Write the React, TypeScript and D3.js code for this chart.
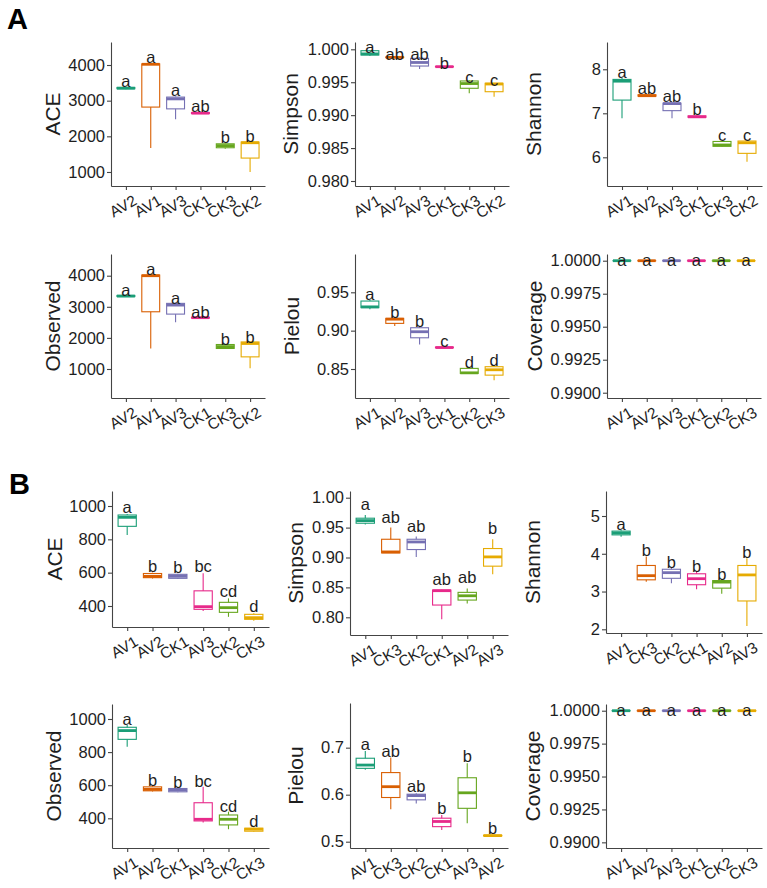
import React, { useEffect, useRef } from 'react';
import * as d3 from 'd3';

// Dark2 colours, applied by box position within each panel
const DARK2 = ['#1b9e77', '#d95f02', '#7570b3', '#e7298a', '#66a61e', '#e6ab02'];
const FONT = "'Liberation Sans', Arial, Helvetica, sans-serif";
const AXIS = '#444';
const INK = '#1e1e1e';

/* ─── A: alpha diversity ─── */
// box stats are [lower whisker, q1, median, q3, upper whisker]
const aAceGroups = ['AV2', 'AV1', 'AV3', 'CK1', 'CK3', 'CK2'];
const aAceStats = [
    [3320, 3335, 3350, 3370, 3380],
    [1670, 2820, 4020, 4030, 4050],
    [2480, 2770, 3050, 3100, 3120],
    [2630, 2640, 2650, 2665, 2670],
    [1650, 1680, 1740, 1790, 1800],
    [1000, 1390, 1820, 1840, 1850],
];
const aAceLetters = ['a', 'a', 'a', 'ab', 'b', 'b'];
const aAceTicks = [1000, 2000, 3000, 4000];

const aSimpsonGroups = ['AV1', 'AV2', 'AV3', 'CK1', 'CK3', 'CK2'];
const aSimpsonStats = [
    [0.9990, 0.99913, 0.9993, 0.99979, 0.9999],
    [0.99872, 0.99875, 0.99878, 0.99882, 0.99885],
    [0.9970, 0.99746, 0.9980, 0.99863, 0.9988],
    [0.99730, 0.99733, 0.99736, 0.99740, 0.99742],
    [0.99332, 0.99408, 0.9948, 0.99519, 0.9953],
    [0.9928, 0.99356, 0.99473, 0.99484, 0.9949],
];
const aSimpsonLetters = ['a', 'ab', 'ab', 'b', 'c', 'c'];
const aSimpsonTicks = [0.980, 0.985, 0.990, 0.995, 1.000];

const aShannonGroups = ['AV1', 'AV2', 'AV3', 'CK1', 'CK3', 'CK2'];
const aShannonStats = [
    [6.89, 7.30, 7.73, 7.77, 7.80],
    [7.37, 7.39, 7.40, 7.42, 7.43],
    [6.89, 7.06, 7.22, 7.23, 7.25],
    [6.90, 6.91, 6.92, 6.94, 6.95],
    [6.24, 6.25, 6.28, 6.36, 6.37],
    [5.90, 6.09, 6.33, 6.37, 6.38],
];
const aShannonLetters = ['a', 'ab', 'ab', 'b', 'c', 'c'];
const aShannonTicks = [6, 7, 8];

const aObservedGroups = ['AV2', 'AV1', 'AV3', 'CK1', 'CK3', 'CK2'];
const aObservedStats = [
    [3320, 3330, 3345, 3365, 3375],
    [1660, 2840, 4000, 4020, 4040],
    [2500, 2765, 3055, 3110, 3130],
    [2630, 2640, 2650, 2660, 2665],
    [1650, 1660, 1720, 1787, 1795],
    [1020, 1390, 1820, 1870, 1880],
];
const aObservedLetters = ['a', 'a', 'a', 'ab', 'b', 'b'];
const aObservedTicks = [1000, 2000, 3000, 4000];

const aPielouGroups = ['AV1', 'AV2', 'AV3', 'CK1', 'CK2', 'CK3'];
const aPielouStats = [
    [0.928, 0.930, 0.931, 0.9386, 0.940],
    [0.906, 0.9095, 0.915, 0.916, 0.917],
    [0.882, 0.8907, 0.8986, 0.9038, 0.905],
    [0.8775, 0.8778, 0.878, 0.8785, 0.879],
    [0.8440, 0.8443, 0.845, 0.8508, 0.851],
    [0.8355, 0.842, 0.849, 0.853, 0.854],
];
const aPielouLetters = ['a', 'b', 'b', 'c', 'd', 'd'];
const aPielouTicks = [0.85, 0.90, 0.95];

const aCoverageGroups = ['AV1', 'AV2', 'AV3', 'CK1', 'CK2', 'CK3'];
const aCoverageStats = [
    [0.99999, 0.999995, 1.0, 1.0, 1.0],
    [0.99999, 0.999995, 1.0, 1.0, 1.0],
    [0.99999, 0.999995, 1.0, 1.0, 1.0],
    [0.99999, 0.999995, 1.0, 1.0, 1.0],
    [0.99999, 0.999995, 1.0, 1.0, 1.0],
    [0.99999, 0.999995, 1.0, 1.0, 1.0],
];
const aCoverageLetters = ['a', 'a', 'a', 'a', 'a', 'a'];
const coverageTicks = [0.9900, 0.9925, 0.9950, 0.9975, 1.0000];

/* ─── B ─── */
const bAceGroups = ['AV1', 'AV2', 'CK1', 'AV3', 'CK2', 'CK3'];
const bAceStats = [
    [826, 878, 932, 946, 952],
    [565, 570, 578, 595, 600],
    [562, 566, 578, 590, 594],
    [370, 380, 396, 491, 596],
    [335, 362, 390, 422, 446],
    [312, 320, 330, 350, 356],
];
const bAceLetters = ['a', 'b', 'b', 'bc', 'cd', 'd'];
const bAceTicks = [400, 600, 800, 1000];

const bSimpsonGroups = ['AV1', 'CK3', 'CK2', 'CK1', 'AV2', 'AV3'];
const bSimpsonStats = [
    [0.955, 0.9573, 0.9617, 0.9657, 0.971],
    [0.9077, 0.9077, 0.9093, 0.9305, 0.950],
    [0.901, 0.9133, 0.926, 0.9305, 0.935],
    [0.7967, 0.8205, 0.8445, 0.8455, 0.846],
    [0.823, 0.8288, 0.836, 0.8417, 0.8483],
    [0.872, 0.8855, 0.901, 0.915, 0.9305],
];
const bSimpsonLetters = ['a', 'ab', 'ab', 'ab', 'ab', 'b'];
const bSimpsonTicks = [0.80, 0.85, 0.90, 0.95, 1.00];

const bShannonGroups = ['AV1', 'CK3', 'CK2', 'CK1', 'AV2', 'AV3'];
const bShannonStats = [
    [4.45, 4.50, 4.55, 4.60, 4.62],
    [3.26, 3.31, 3.42, 3.69, 3.93],
    [3.22, 3.35, 3.50, 3.59, 3.62],
    [3.06, 3.18, 3.34, 3.47, 3.53],
    [2.94, 3.09, 3.25, 3.29, 3.31],
    [2.09, 2.75, 3.44, 3.69, 3.88],
];
const bShannonLetters = ['a', 'b', 'b', 'b', 'b', 'b'];
const bShannonTicks = [2, 3, 4, 5];

const bObservedGroups = ['AV1', 'AV2', 'CK1', 'AV3', 'CK2', 'CK3'];
const bObservedStats = [
    [832, 877, 930, 950, 964],
    [562, 566, 575, 590, 594],
    [558, 560, 572, 580, 584],
    [374, 384, 394, 494, 590],
    [334, 360, 394, 420, 440],
    [318, 322, 334, 340, 345],
];
const bObservedLetters = ['a', 'b', 'b', 'bc', 'cd', 'd'];
const bObservedTicks = [400, 600, 800, 1000];

const bPielouGroups = ['AV1', 'CK3', 'CK2', 'CK1', 'AV3', 'AV2'];
const bPielouStats = [
    [0.653, 0.656, 0.663, 0.6775, 0.693],
    [0.569, 0.594, 0.617, 0.647, 0.679],
    [0.581, 0.589, 0.598, 0.601, 0.603],
    [0.525, 0.532, 0.543, 0.550, 0.557],
    [0.539, 0.571, 0.604, 0.636, 0.667],
    [0.512, 0.5125, 0.513, 0.5135, 0.514],
];
const bPielouLetters = ['a', 'ab', 'ab', 'b', 'b', 'b'];
const bPielouTicks = [0.5, 0.6, 0.7];

const bCoverageGroups = ['AV1', 'AV2', 'AV3', 'CK1', 'CK2', 'CK3'];
const bCoverageStats = aCoverageStats;
const bCoverageLetters = ['a', 'a', 'a', 'a', 'a', 'a'];

/* ─── panel layout: axis origin, plot extent, y range ─── */
const PANELS = [
    { title: 'ACE', groups: aAceGroups, stats: aAceStats, letters: aAceLetters, ticks: aAceTicks, fmt: 'd',
        domain: [607, 4645], x0: 111, x1: 265, top: 42, bottom: 186, titleX: 52, letterDy: 0 },
    { title: 'Simpson', groups: aSimpsonGroups, stats: aSimpsonStats, letters: aSimpsonLetters, ticks: aSimpsonTicks, fmt: '.3f',
        domain: [0.97924, 1.00111], x0: 355, x1: 509, top: 42, bottom: 186, titleX: 290, letterDy: 3 },
    { title: 'Shannon', groups: aShannonGroups, stats: aShannonStats, letters: aShannonLetters, ticks: aShannonTicks, fmt: 'd',
        domain: [5.348, 8.62], x0: 607, x1: 762, top: 42, bottom: 186, titleX: 533, letterDy: 0 },
    { title: 'Observed', groups: aObservedGroups, stats: aObservedStats, letters: aObservedLetters, ticks: aObservedTicks, fmt: 'd',
        domain: [67, 4698], x0: 111, x1: 265, top: 254, bottom: 398, titleX: 52, letterDy: 1 },
    { title: 'Pielou', groups: aPielouGroups, stats: aPielouStats, letters: aPielouLetters, ticks: aPielouTicks, fmt: '.2f',
        domain: [0.8122, 0.99994], x0: 355, x1: 509, top: 254, bottom: 398, titleX: 291, letterDy: 0 },
    { title: 'Coverage', groups: aCoverageGroups, stats: aCoverageStats, letters: aCoverageLetters, ticks: coverageTicks, fmt: '.4f',
        domain: [0.9896, 1.000508], x0: 607, x1: 761, top: 254, bottom: 398, titleX: 534, letterDy: 5 },
    { title: 'ACE', groups: bAceGroups, stats: bAceStats, letters: bAceLetters, ticks: bAceTicks, fmt: 'd',
        domain: [274, 1090], x0: 112, x1: 269, top: 491, bottom: 627, titleX: 54, letterDy: -1 },
    { title: 'Simpson', groups: bSimpsonGroups, stats: bSimpsonStats, letters: bSimpsonLetters, ticks: bSimpsonTicks, fmt: '.2f',
        domain: [0.7704, 1.0112], x0: 350, x1: 508, top: 491, bottom: 635, titleX: 295, letterDy: -5 },
    { title: 'Shannon', groups: bShannonGroups, stats: bShannonStats, letters: bShannonLetters, ticks: bShannonTicks, fmt: 'd',
        domain: [1.902, 5.662], x0: 606, x1: 762, top: 491, bottom: 633, titleX: 532, letterDy: 0 },
    { title: 'Observed', groups: bObservedGroups, stats: bObservedStats, letters: bObservedLetters, ticks: bObservedTicks, fmt: 'd',
        domain: [220.5, 1090.6], x0: 112, x1: 269, top: 704, bottom: 848, titleX: 53, letterDy: 0 },
    { title: 'Pielou', groups: bPielouGroups, stats: bPielouStats, letters: bPielouLetters, ticks: bPielouTicks, fmt: '.1f',
        domain: [0.4866, 0.795], x0: 350, x1: 508, top: 703, bottom: 848, titleX: 295, letterDy: -1 },
    { title: 'Coverage', groups: bCoverageGroups, stats: bCoverageStats, letters: bCoverageLetters, ticks: coverageTicks, fmt: '.4f',
        domain: [0.98957, 1.00051], x0: 606, x1: 762, top: 704, bottom: 848, titleX: 532, letterDy: 5 },
];

const TAGS = [
    { label: 'A', x: 7, y: 29 },
    { label: 'B', x: 9, y: 494 },
];

function drawPanel(svg, p) {
    const g = svg.append('g');
    const x = d3.scalePoint().domain(p.groups).range([p.x0, p.x1]).padding(0.6);
    const y = d3.scaleLinear().domain(p.domain).range([p.bottom, p.top]);
    const bw = x.step() * 0.72;

    // y axis
    g.append('g').attr('transform', `translate(${p.x0},0)`)
        .call(d3.axisLeft(y).tickValues(p.ticks).tickFormat(d3.format(p.fmt)).tickSize(4).tickSizeOuter(0).tickPadding(2))
        .call(a => a.select('.domain').attr('stroke', AXIS).attr('stroke-width', 1.1))
        .call(a => a.selectAll('.tick line').attr('stroke', AXIS).attr('stroke-width', 1.1))
        .call(a => a.selectAll('text').attr('fill', INK).attr('font-size', 16.5).attr('font-family', FONT));

    // x axis with slanted group names
    g.append('g').attr('transform', `translate(0,${p.bottom})`)
        .call(d3.axisBottom(x).tickSize(4).tickSizeOuter(0))
        .call(a => a.select('.domain').attr('stroke', AXIS).attr('stroke-width', 1.1))
        .call(a => a.selectAll('.tick line').attr('stroke', AXIS).attr('stroke-width', 1.1))
        .call(a => a.selectAll('text')
            .attr('x', 0).attr('y', 0).attr('dy', '0.72em')
            .attr('transform', 'translate(6,8) rotate(-30)')
            .attr('text-anchor', 'end')
            .attr('fill', INK).attr('font-size', 15.5).attr('font-family', FONT));

    // axis title
    g.append('text')
        .attr('transform', `translate(${p.titleX},${(p.top + p.bottom) / 2}) rotate(-90)`)
        .attr('text-anchor', 'middle').attr('dominant-baseline', 'central')
        .attr('fill', INK).attr('font-size', 21).attr('font-family', FONT)
        .text(p.title);

    const rows = p.stats.map((s, i) => ({ group: p.groups[i], s, color: DARK2[i], letter: p.letters[i] }));
    const box = g.selectAll('.box').data(rows).join('g').attr('class', 'box');

    box.append('line')
        .attr('x1', d => x(d.group)).attr('x2', d => x(d.group))
        .attr('y1', d => y(d.s[0])).attr('y2', d => y(d.s[4]))
        .attr('stroke', d => d.color).attr('stroke-width', 1.1);

    box.append('rect')
        .attr('x', d => x(d.group) - bw / 2).attr('width', bw)
        .attr('y', d => y(d.s[3])).attr('height', d => Math.max(0, y(d.s[1]) - y(d.s[3])))
        .attr('fill', '#fff').attr('stroke', d => d.color).attr('stroke-width', 1.1);

    box.append('line')
        .attr('x1', d => x(d.group) - bw / 2).attr('x2', d => x(d.group) + bw / 2)
        .attr('y1', d => y(d.s[2])).attr('y2', d => y(d.s[2]))
        .attr('stroke', d => d.color).attr('stroke-width', 2.8);

    // significance letters
    box.append('text')
        .attr('x', d => x(d.group)).attr('y', d => y(d.s[4]) + p.letterDy)
        .attr('text-anchor', 'middle')
        .attr('fill', INK).attr('font-size', 16.5).attr('font-family', FONT)
        .text(d => d.letter);
}

export default function App() {
    const svgRef = useRef(null);

    useEffect(() => {
        const svg = d3.select(svgRef.current);
        svg.selectAll('*').remove();
        svg.append('rect').attr('width', 767).attr('height', 888).attr('fill', '#fff');
        PANELS.forEach(p => drawPanel(svg, p));
        svg.selectAll('.tag').data(TAGS).join('text').attr('class', 'tag')
            .attr('x', d => d.x).attr('y', d => d.y)
            .attr('font-size', 29).attr('font-weight', 700).attr('font-family', FONT)
            .attr('fill', '#000')
            .text(d => d.label);
    }, []);

    return (
        <svg ref={svgRef} width={767} height={888}
            style={{ position: 'absolute', left: 0, top: 0, display: 'block', background: '#fff' }} />
    );
}
